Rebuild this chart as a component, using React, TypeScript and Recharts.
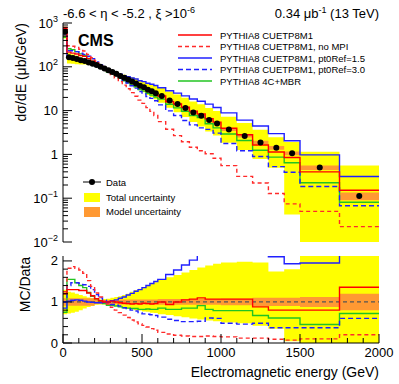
import React from 'react';
import { ComposedChart, Line, Area, Scatter, XAxis, YAxis, ReferenceLine } from 'recharts';

const FONT = "'Liberation Sans', Arial, Helvetica, sans-serif";

// bin edges (GeV)
const binEdges = [
  0, 25, 50, 75, 100, 125, 150, 175, 200, 225, 250, 275, 300, 325, 350, 375, 400, 425, 450, 475,
  500, 525, 550, 575, 600, 650, 700, 750, 800, 850, 900, 950, 1000, 1100, 1200, 1300, 1400, 1500, 1750, 2000,
];

// measured d(sigma)/dE in ub/GeV, one value per bin
const dataXsec = [
  630, 166, 158, 151, 141, 135, 126, 117, 110, 100,
  91, 83, 76, 69, 62, 56, 51, 46, 41.7, 37,
  34, 30, 27.5, 25, 21.5, 17, 14.1, 11.4, 9.1, 7.6,
  6.1, 5.1, 3.7, 2.63, 1.86, 1.42, 1.06, 0.5, 0.112,
];

// MC / Data per bin
const ratioCUETP8M1 = [
  1.2, 1.3, 1.3, 1.3, 1.28, 1.28, 1.22, 1.15, 1.08, 1.03,
  1.0, 1.0, 1.02, 1.0, 0.98, 0.97, 0.96, 0.95, 0.96, 0.95,
  0.97, 0.96, 0.95, 0.96, 1.0, 0.94, 1.0, 1.05, 1.07, 1.1,
  1.07, 1.07, 1.07, 1.07, 0.88, 0.8, 0.8, 0.8, 1.36,
];
const ratioNoMPI = [
  1.25, 1.82, 1.86, 1.82, 1.78, 1.7, 1.52, 1.38, 1.22, 1.12,
  1.02, 0.95, 0.87, 0.8, 0.74, 0.68, 0.62, 0.56, 0.51, 0.47,
  0.43, 0.39, 0.35, 0.31, 0.26, 0.22, 0.19, 0.17, 0.16, 0.16,
  0.17, 0.16, 0.15, 0.12, 0.12, 0.09, 0.07, 0.1, 0.2,
];
const ratioPt0Ref15 = [
  0.85, 1.02, 1.04, 1.05, 1.04, 1.02, 1.0, 0.99, 0.98, 0.98,
  0.99, 1.0, 1.03, 1.05, 1.09, 1.12, 1.17, 1.21, 1.26, 1.3,
  1.35, 1.4, 1.45, 1.5, 1.55, 1.67, 1.78, 1.9, 2.02, 2.15,
  2.3, 2.3, 2.4, 2.3, 2.4, 2.1, 1.93, 1.95, 2.8,
];
const ratioPt0Ref30 = [
  1.0, 1.4, 1.47, 1.47, 1.45, 1.42, 1.38, 1.3, 1.18, 1.1,
  1.04, 0.98, 0.94, 0.92, 0.9, 0.86, 0.84, 0.8, 0.78, 0.74,
  0.71, 0.7, 0.69, 0.67, 0.63, 0.58, 0.55, 0.52, 0.52, 0.53,
  0.61, 0.6, 0.48, 0.46, 0.48, 0.37, 0.37, 0.37, 0.6,
];
const ratio4CMBR = [
  0.75, 1.55, 1.55, 1.47, 1.4, 1.35, 1.23, 1.14, 1.08, 1.0,
  0.96, 0.92, 0.92, 0.9, 0.88, 0.86, 0.85, 0.84, 0.84, 0.82,
  0.82, 0.83, 0.82, 0.82, 0.85, 0.82, 0.82, 0.85, 0.85, 0.91,
  0.82, 0.79, 0.79, 0.79, 0.67, 0.61, 0.61, 0.45, 0.72,
];

// relative uncertainty bands (low / high edge)
const totalUncLow = [
  0.7, 0.72, 0.74, 0.76, 0.8, 0.84, 0.88, 0.91, 0.93, 0.94,
  0.94, 0.93, 0.92, 0.9, 0.88, 0.86, 0.84, 0.82, 0.8, 0.79,
  0.77, 0.76, 0.74, 0.73, 0.7, 0.68, 0.65, 0.63, 0.6, 0.57,
  0.55, 0.53, 0.5, 0.48, 0.42, 0.35, 0.04, 0.001, 0.001,
];
const totalUncHigh = [
  1.3, 1.25, 1.23, 1.2, 1.17, 1.14, 1.11, 1.09, 1.07, 1.06,
  1.07, 1.08, 1.1, 1.12, 1.14, 1.17, 1.2, 1.25, 1.29, 1.32,
  1.36, 1.4, 1.44, 1.48, 1.54, 1.6, 1.66, 1.72, 1.78, 1.84,
  1.89, 1.93, 1.96, 1.98, 1.96, 1.74, 1.8, 2.3, 5.0,
];
const modelUncLow = [
  0.91, 0.91, 0.91, 0.91, 0.91, 0.91, 0.91, 0.91, 0.95, 0.95,
  0.95, 0.95, 0.95, 0.95, 0.94, 0.94, 0.94, 0.94, 0.94, 0.94,
  0.94, 0.94, 0.94, 0.94, 0.93, 0.93, 0.93, 0.93, 0.93, 0.93,
  0.93, 0.93, 0.92, 0.92, 0.9, 0.9, 0.9, 0.88, 0.8,
];
const modelUncHigh = [
  1.09, 1.09, 1.09, 1.09, 1.09, 1.09, 1.09, 1.09, 1.05, 1.05,
  1.05, 1.05, 1.05, 1.05, 1.06, 1.06, 1.06, 1.06, 1.06, 1.06,
  1.06, 1.06, 1.06, 1.06, 1.07, 1.07, 1.07, 1.07, 1.07, 1.07,
  1.07, 1.07, 1.08, 1.08, 1.1, 1.1, 1.1, 1.12, 1.2,
];

const mcSeries = [
  { key: 'cuet', ratio: ratioCUETP8M1, name: 'PYTHIA8 CUETP8M1', color: '#ff0000', dash: undefined },
  { key: 'nompi', ratio: ratioNoMPI, name: 'PYTHIA8 CUETP8M1, no MPI', color: '#ff2a2a', dash: '4 3' },
  { key: 'pt15', ratio: ratioPt0Ref15, name: 'PYTHIA8 CUETP8M1, pt0Ref=1.5', color: '#2020ff', dash: undefined },
  { key: 'pt30', ratio: ratioPt0Ref30, name: 'PYTHIA8 CUETP8M1, pt0Ref=3.0', color: '#2020ff', dash: '5 3' },
  { key: 'mbr', ratio: ratio4CMBR, name: 'PYTHIA8 4C+MBR', color: '#22c422', dash: undefined },
];
const drawOrder = ['mbr', 'pt30', 'pt15', 'nompi', 'cuet'];

const logMajors = [0.01, 0.1, 1, 10, 100, 1000];
const logTicks = logMajors.slice(0, -1).flatMap(m => [1, 2, 3, 4, 5, 6, 7, 8, 9].map(k => m * k)).concat([1000]);
const xTicks = Array.from({ length: 21 }, (_, i) => i * 100);
const ratioTicks = Array.from({ length: 11 }, (_, i) => i / 5);

// histogram rows: one per lower edge, plus the last edge repeating the last bin
const nBins = dataXsec.length;
const histRows = binEdges.map((e, i) => {
  const b = Math.min(i, nBins - 1);
  const d = dataXsec[b];
  const row: any = {
    e,
    tot: [d * totalUncLow[b], d * totalUncHigh[b]],
    mod: [d * modelUncLow[b], d * modelUncHigh[b]],
    rTot: [totalUncLow[b], totalUncHigh[b]],
    rMod: [modelUncLow[b], modelUncHigh[b]],
  };
  mcSeries.forEach(s => {
    row[s.key] = d * s.ratio[b];
    row['r_' + s.key] = s.ratio[b];
  });
  return row;
});
const dataPoints = dataXsec.map((v, i) => ({ e: (binEdges[i] + binEdges[i + 1]) / 2, v }));

const expLabel = (exp: number) => {
  if (exp === 0) return '1';
  if (exp === 1) return '10';
  return (
    <>
      10<tspan dy={-6} fontSize={9}>{exp < 0 ? '\u2212' + -exp : String(exp)}</tspan>
    </>
  );
};

const LogTickLeft = (props: any) => {
  const { x, y, payload } = props;
  const v = payload.value;
  const major = logMajors.includes(v);
  return (
    <g>
      <line x1={x} x2={x + (major ? 9 : 5)} y1={y} y2={y} stroke="#000" />
      {major && (
        <text x={x - 5} y={y + 4.5} textAnchor="end" fontSize={13} fontFamily={FONT} fill="#000">
          {expLabel(Math.round(Math.log10(v)))}
        </text>
      )}
    </g>
  );
};

const LogTickRight = (props: any) => {
  const { x, y, payload } = props;
  const major = logMajors.includes(payload.value);
  return <line x1={x} x2={x - (major ? 9 : 5)} y1={y} y2={y} stroke="#000" />;
};

const RatioTickLeft = (props: any) => {
  const { x, y, payload } = props;
  const major = Number.isInteger(payload.value);
  return (
    <g>
      <line x1={x} x2={x + (major ? 9 : 5)} y1={y} y2={y} stroke="#000" />
      {major && (
        <text x={x - 5} y={y + 4.5} textAnchor="end" fontSize={13} fontFamily={FONT} fill="#000">
          {payload.value}
        </text>
      )}
    </g>
  );
};

const RatioTickRight = (props: any) => {
  const { x, y, payload } = props;
  const major = Number.isInteger(payload.value);
  return <line x1={x} x2={x - (major ? 9 : 5)} y1={y} y2={y} stroke="#000" />;
};

const makeXTick = (dir: number, labels: boolean) => (props: any) => {
  const { x, y, payload } = props;
  const major = payload.value % 500 === 0;
  return (
    <g>
      <line x1={x} x2={x} y1={y} y2={y + dir * (major ? 9 : 5)} stroke="#000" />
      {labels && major && (
        <text x={x} y={y + 14} textAnchor="middle" fontSize={13} fontFamily={FONT} fill="#000">
          {payload.value}
        </text>
      )}
    </g>
  );
};

const XTickBottomPlain = makeXTick(-1, false);
const XTickBottomLabels = makeXTick(-1, true);
const XTickTop = makeXTick(1, false);

const seriesByKey = (k: string) => mcSeries.find(s => s.key === k)!;

const frameAxes = (upper: boolean) => [
  <XAxis key="xb" xAxisId="b" dataKey="e" type="number" domain={[0, 2000]} ticks={xTicks} interval={0}
    allowDataOverflow height={upper ? 0 : 41} tickSize={0} tickMargin={0} tickLine={false}
    axisLine={{ stroke: '#000' }} tick={upper ? XTickBottomPlain : XTickBottomLabels} />,
  <XAxis key="xt" xAxisId="t" orientation="top" dataKey="e" type="number" domain={[0, 2000]} ticks={xTicks}
    interval={0} allowDataOverflow height={0} tickSize={0} tickMargin={0} tickLine={false}
    axisLine={{ stroke: '#000' }} tick={XTickTop} />,
];

export default function App() {
  return (
    <div style={{ position: 'absolute', left: 0, top: 0, width: 399, height: 384, background: '#fff' }}>
      <div style={{ position: 'absolute', left: 0, top: 0 }}>
        <ComposedChart width={399} height={250} margin={{ top: 23, right: 20, bottom: 8, left: 23 }}>
          {frameAxes(true)}
          <YAxis yAxisId="l" type="number" scale="log" domain={[0.01, 1000]} allowDataOverflow ticks={logTicks}
            interval={0} width={40} tickSize={0} tickMargin={0} tickLine={false} axisLine={{ stroke: '#000' }}
            tick={LogTickLeft} />
          <YAxis yAxisId="r" orientation="right" type="number" scale="log" domain={[0.01, 1000]} allowDataOverflow
            ticks={logTicks} interval={0} width={0} tickSize={0} tickMargin={0} tickLine={false}
            axisLine={{ stroke: '#000' }} tick={LogTickRight} />
          <Area data={histRows} xAxisId="b" yAxisId="l" dataKey="tot" type="stepAfter" stroke="none"
            fill="#ffff00" fillOpacity={1} isAnimationActive={false} />
          <Area data={histRows} xAxisId="b" yAxisId="l" dataKey="mod" type="stepAfter" stroke="none"
            fill="#ff9933" fillOpacity={1} isAnimationActive={false} />
          {drawOrder.map(k => {
            const s = seriesByKey(k);
            return (
              <Line key={k} data={histRows} xAxisId="b" yAxisId="l" dataKey={k} type="stepAfter" stroke={s.color}
                strokeDasharray={s.dash} strokeWidth={1.4} dot={false} isAnimationActive={false} />
            );
          })}
          <Scatter data={dataPoints} xAxisId="b" yAxisId="l" dataKey="v" isAnimationActive={false}
            shape={(p: any) => <circle cx={p.cx} cy={p.cy} r={3} fill="#000" />} />
        </ComposedChart>
      </div>

      <div style={{ position: 'absolute', left: 0, top: 250 }}>
        <ComposedChart width={399} height={134} margin={{ top: 6, right: 20, bottom: 0, left: 23 }}>
          {frameAxes(false)}
          <YAxis yAxisId="l" type="number" domain={[0, 2.12]} allowDataOverflow ticks={ratioTicks} interval={0}
            width={40} tickSize={0} tickMargin={0} tickLine={false} axisLine={{ stroke: '#000' }}
            tick={RatioTickLeft} />
          <YAxis yAxisId="r" orientation="right" type="number" domain={[0, 2.12]} allowDataOverflow
            ticks={ratioTicks} interval={0} width={0} tickSize={0} tickMargin={0} tickLine={false}
            axisLine={{ stroke: '#000' }} tick={RatioTickRight} />
          <Area data={histRows} xAxisId="b" yAxisId="l" dataKey="rTot" type="stepAfter" stroke="none"
            fill="#ffff00" fillOpacity={1} isAnimationActive={false} />
          <Area data={histRows} xAxisId="b" yAxisId="l" dataKey="rMod" type="stepAfter" stroke="none"
            fill="#ff9933" fillOpacity={1} isAnimationActive={false} />
          <ReferenceLine xAxisId="b" yAxisId="l" y={1} stroke="#555" strokeDasharray="4 3" strokeWidth={1.2} />
          {drawOrder.map(k => {
            const s = seriesByKey(k);
            return (
              <Line key={k} data={histRows} xAxisId="b" yAxisId="l" dataKey={'r_' + k} type="stepAfter"
                stroke={s.color} strokeDasharray={s.dash} strokeWidth={1.4} dot={false} isAnimationActive={false} />
            );
          })}
        </ComposedChart>
      </div>

      <svg width={399} height={384} style={{ position: 'absolute', left: 0, top: 0, pointerEvents: 'none' }}
        fontFamily={FONT}>
        <text x={63} y={18} fontSize={13} fill="#000">
          {'-6.6 < \u03b7 < -5.2 , \u03be >10'}
          <tspan dy={-5} fontSize={9}>-6</tspan>
        </text>
        <text x={379} y={18} fontSize={13} textAnchor="end" fill="#000">
          {'0.34 \u03bcb'}
          <tspan dy={-5} fontSize={9}>-1</tspan>
          <tspan dy={5}>{' (13 TeV)'}</tspan>
        </text>
        <text x={78} y={46} fontSize={16} fontWeight="bold" fill="#000">CMS</text>
        <text transform="translate(26,23) rotate(-90)" textAnchor="end" fontSize={14} fill="#000">
          {'d\u03c3/dE (\u03bcb/GeV)'}
        </text>
        <text transform="translate(30,257) rotate(-90)" textAnchor="end" fontSize={14} fill="#000">MC/Data</text>
        <text x={379} y={377} textAnchor="end" fontSize={14} fill="#000">Electromagnetic energy (GeV)</text>

        {mcSeries.map((s, i) => {
          const y = 35 + i * 11.5;
          return (
            <g key={s.key}>
              <line x1={178} x2={212} y1={y} y2={y} stroke={s.color} strokeWidth={1.4} strokeDasharray={s.dash} />
              <text x={220} y={y + 3.5} fontSize={9.5} fill="#000">{s.name}</text>
            </g>
          );
        })}

        <line x1={83} x2={101} y1={182} y2={182} stroke="#000" />
        <circle cx={92} cy={182} r={3} fill="#000" />
        <text x={106} y={185.5} fontSize={9.5} fill="#000">Data</text>
        <rect x={84} y={193} width={16} height={9} fill="#ffff00" />
        <text x={106} y={200.5} fontSize={9.5} fill="#000">Total uncertainty</text>
        <rect x={84} y={207} width={16} height={10} fill="#ff9933" />
        <text x={106} y={215} fontSize={9.5} fill="#000">Model uncertainty</text>
      </svg>
    </div>
  );
}
